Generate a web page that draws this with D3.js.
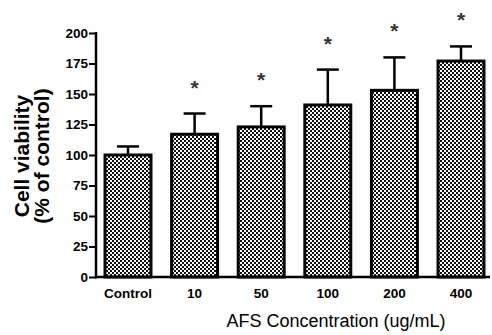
<!DOCTYPE html>
<html><head><meta charset="utf-8">
<script src="https://cdn.jsdelivr.net/npm/d3@7"></script>
<style>body{margin:0;background:#fff}svg{display:block}</style>
</head><body>
<script>
const categories = ["Control","10","50","100","200","400"];
const means = [100,117,123,141,153,177];
const errors = [7,17,17,29,27,12];
const significant = [false,true,true,true,true,true];
const yTicks = [0,25,50,75,100,125,150,175,200];

const W=492,H=335;
const svg=d3.select("body").append("svg").attr("width",W).attr("height",H);
const defs=svg.append("defs");
const pat=defs.append("pattern").attr("id","chk").attr("patternUnits","userSpaceOnUse").attr("width",4).attr("height",4);
pat.append("rect").attr("width",4).attr("height",4).attr("fill","#fff");
pat.append("rect").attr("width",2).attr("height",2).attr("fill","#111");
pat.append("rect").attr("x",2).attr("y",2).attr("width",2).attr("height",2).attr("fill","#111");

const x0=96, xEnd=490, y0=277, yTop=33;
const y=d3.scaleLinear().domain([0,200]).range([y0,yTop]);
const x=d3.scaleBand().domain(categories).range([94.7,494.3]).paddingInner(0.31).paddingOuter(0.155);

const font="Liberation Sans, Arial, sans-serif";
// y axis
const ya=svg.append("g").attr("transform",`translate(${x0},0)`)
 .call(d3.axisLeft(y).tickValues(yTicks).tickSize(7).tickPadding(1));
ya.select(".domain").remove();
ya.selectAll("line").attr("stroke","#000").attr("stroke-width",2);
ya.selectAll("text").attr("font-family",font).attr("font-weight","bold").attr("font-size",13.5).attr("fill","#000");
svg.append("line").attr("x1",x0).attr("x2",x0).attr("y1",y(200)-1).attr("y2",y0+1.5).attr("stroke","#000").attr("stroke-width",2.5);

// bars
const g=svg.append("g");
categories.forEach((c,i)=>{
  const bx=x(c), bw=x.bandwidth(), cx=bx+bw/2;
  const top=y(means[i]+errors[i]);
  g.append("line").attr("x1",cx).attr("x2",cx).attr("y1",y(means[i])).attr("y2",top).attr("stroke","#000").attr("stroke-width",2.5);
  g.append("line").attr("x1",cx-11).attr("x2",cx+11).attr("y1",top).attr("y2",top).attr("stroke","#000").attr("stroke-width",2.5);
  g.append("rect").attr("x",bx).attr("y",y(means[i])).attr("width",bw).attr("height",y0-y(means[i]))
   .attr("fill","url(#chk)").attr("stroke","#000").attr("stroke-width",3);
  if(significant[i]) g.append("text").attr("x",cx).attr("y",top-19).attr("text-anchor","middle")
   .attr("font-family",font).attr("font-weight","bold").attr("font-size",21).attr("fill","#333").text("*");
});

// x axis
svg.append("line").attr("x1",x0-1).attr("x2",xEnd).attr("y1",y0).attr("y2",y0).attr("stroke","#000").attr("stroke-width",2.5);
const xa=svg.append("g").attr("transform",`translate(0,${y0})`).call(d3.axisBottom(x).tickSize(0).tickPadding(11));
xa.select(".domain").remove();
xa.selectAll("text").attr("font-family",font).attr("font-weight","bold").attr("font-size",13.5).attr("fill","#000");

svg.append("text").attr("x",336).attr("y",327).attr("text-anchor","middle").attr("font-family",font).attr("font-size",18).text("AFS Concentration (ug/mL)");
svg.append("text").attr("transform","translate(28.5,156) rotate(-90)").attr("text-anchor","middle").attr("font-family",font).attr("font-weight","bold").attr("font-size",21).text("Cell viability");
svg.append("text").attr("transform","translate(49,156) rotate(-90)").attr("text-anchor","middle").attr("font-family",font).attr("font-weight","bold").attr("font-size",21).text("(% of control)");
</script>
</body></html>
